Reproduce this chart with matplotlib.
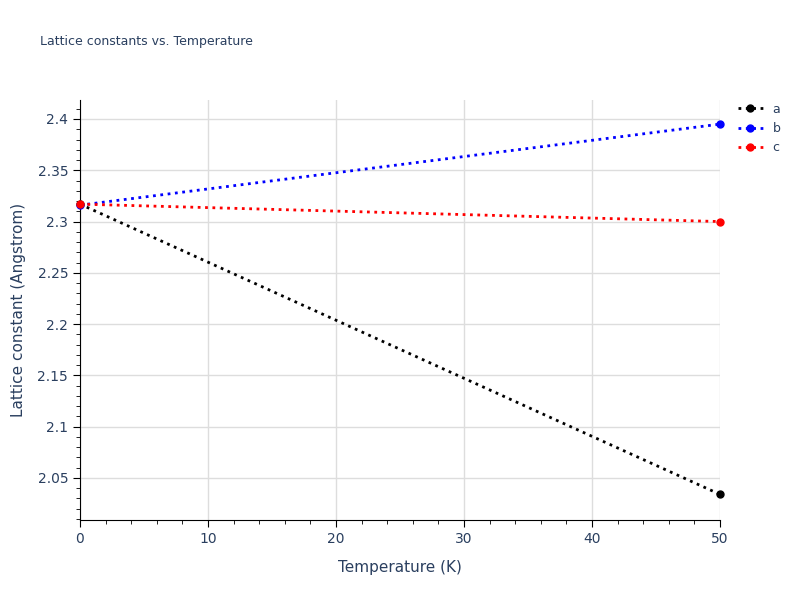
import matplotlib
matplotlib.use("Agg")
import matplotlib.pyplot as plt
from matplotlib.ticker import MultipleLocator

temperature = [0, 50]
lattice_a = [2.317, 2.034]
lattice_b = [2.316, 2.395]
lattice_c = [2.317, 2.300]

text_col = '#2a3f5f'
fig = plt.figure(figsize=(8, 6), dpi=100)
ax = fig.add_axes([0.1, 0.1333, 0.8, 0.7])

for vals, col, name in [(lattice_a, 'black', 'a'), (lattice_b, 'blue', 'b'), (lattice_c, 'red', 'c')]:
    ax.plot(temperature, vals, ':', color=col, lw=2, marker='o', ms=5, label=name, clip_on=False, zorder=3)

ax.set_xlim(0, 50)
ax.set_ylim(2.009, 2.4185)
ax.xaxis.set_major_locator(MultipleLocator(10))
ax.xaxis.set_minor_locator(MultipleLocator(2))
ax.yaxis.set_major_locator(MultipleLocator(0.05))
ax.yaxis.set_minor_locator(MultipleLocator(0.01))
ax.yaxis.set_major_formatter(matplotlib.ticker.FuncFormatter(lambda v, p: f'{v:g}'))
ax.grid(True, which='major', color='#dddddd', lw=1)
ax.set_axisbelow(True)
for s in ['top', 'right']:
    ax.spines[s].set_visible(False)
ax.tick_params(which='major', length=5, colors='black', labelcolor=text_col, labelsize=10)
ax.tick_params(which='minor', length=3, colors='black')
ax.set_xlabel('Temperature (K)', color=text_col, fontsize=11, labelpad=10)
ax.set_ylabel('Lattice constant (Angstrom)', color=text_col, fontsize=11, labelpad=8)
fig.text(0.05, 0.925, 'Lattice constants vs. Temperature', color=text_col, fontsize=9)
ax.legend(loc='upper left', bbox_to_anchor=(1.01, 1.02), frameon=False,
          fontsize=9, labelcolor=text_col, handlelength=2)
fig.savefig('out.png')
